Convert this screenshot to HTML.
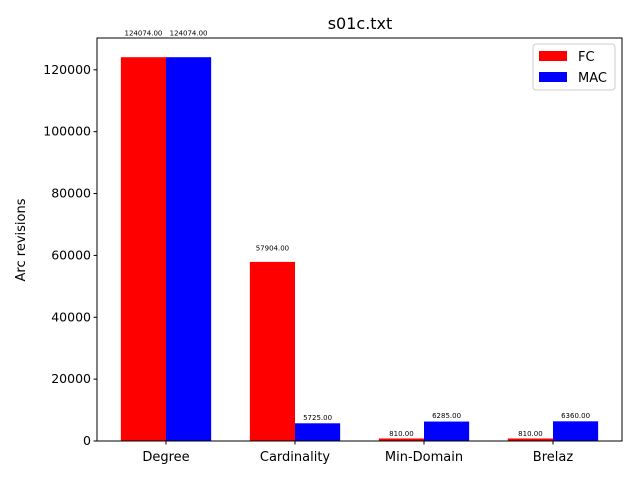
<!DOCTYPE html>
<html><head><meta charset="utf-8"><style>body{margin:0;background:#fff}svg{display:block;font-family:"DejaVu Sans","Liberation Sans",sans-serif}</style></head>
<body>
<svg id="c" width="640" height="480"></svg>
<script>
const categories=["Degree","Cardinality","Min-Domain","Brelaz"];
const fcValues=[124074,57904,810,810];
const macValues=[124074,5725,6285,6360];
const yTicks=[0,20000,40000,60000,80000,100000,120000];
const L=97,R=622,T=38,B=441,W=0.35;
const ymax=Math.max(...fcValues,...macValues)*1.05;
const xmin=-0.175-0.185,xmax=3.525+0.185;
const sx=v=>L+(v-xmin)/(xmax-xmin)*(R-L);
const sy=v=>B-v/ymax*(B-T);
const svg=document.getElementById('c');const NS='http://www.w3.org/2000/svg';
function mk(t,a,p){const e=document.createElementNS(NS,t);for(const k in a)e.setAttribute(k,a[k]);(p||svg).appendChild(e);return e;}
function bars(vals,off,col,nm){vals.forEach((v,i)=>{const x0=sx(i+off-W/2),x1=sx(i+off+W/2);
const r=mk('rect',{x:x0,y:sy(v),width:x1-x0,height:B-sy(v),fill:col});


const t=mk('text',{x:(x0+x1)/2,y:sy(v*1.05)-2.5,'font-size':7,'text-anchor':'middle'});t.textContent=v.toFixed(2);

});}
bars(fcValues,0,'#ff0000','fc');bars(macValues,W,'#0000ff','mac');
mk('rect',{x:L,y:T,width:R-L,height:B-T,fill:'none',stroke:'#000','stroke-width':1});
yTicks.forEach(v=>{const y=sy(v);mk('line',{x1:L-3.5,x2:L,y1:y,y2:y,stroke:'#000'});
const t=mk('text',{x:L-6,y:y+4,'font-size':12.5,'text-anchor':'end'});t.textContent=v;

});
categories.forEach((c,i)=>{const x=sx(i+W/2);mk('line',{x1:x,x2:x,y1:B,y2:B+3.5,stroke:'#000'});
const t=mk('text',{x:x,y:B+20,'font-size':13,'text-anchor':'middle'});t.textContent=c;

});
let t=mk('text',{x:360,y:29,'font-size':16,'text-anchor':'middle'});t.textContent='s01c.txt';

t=mk('text',{x:25,y:240,'font-size':13,'text-anchor':'middle',transform:'rotate(-90 25 240)'});t.textContent='Arc revisions';

const g=mk('g',{});
mk('rect',{x:533,y:44,width:82,height:46,fill:'#fff',stroke:'#ccc',rx:3},g);
[['FC','#ff0000',56],['MAC','#0000ff',77]].forEach(([n,c,y])=>{mk('rect',{x:539,y:y-5,width:28,height:10,fill:c},g);
const tt=mk('text',{x:578,y:y+5,'font-size':13},g);tt.textContent=n;
});
</script>
</body></html>
